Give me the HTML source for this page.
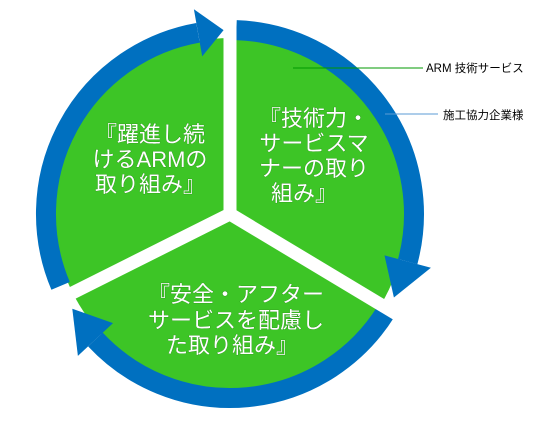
<!DOCTYPE html>
<html><head><meta charset="utf-8"><style>
html,body{margin:0;padding:0;background:#fff;width:533px;height:438px;overflow:hidden}
svg{display:block}
.t{font-family:"Liberation Sans","Noto Sans CJK JP",sans-serif;font-size:22px;fill:#fff;stroke:#2a8a1a;stroke-width:0.6;paint-order:stroke}
.l{font-family:"Liberation Sans","Noto Sans CJK JP",sans-serif;font-size:11.5px;fill:#000}
</style></head><body>
<svg width="533" height="438" viewBox="0 0 533 438" xmlns="http://www.w3.org/2000/svg">
<circle cx="230" cy="214" r="176" fill="#3dc526"/>
<g fill="none" stroke="#0070c0" stroke-width="20">
<path d="M60.6,285.9 A184,184 0 0 1 198,32.8"/>
<path d="M236.4,30.1 A184,184 0 0 1 407.7,261.6"/>
<path d="M386,311.5 A184,184 0 0 1 95.4,339.5"/>
</g>
<g fill="#0070c0">
<polygon points="202.2,56.4 193.9,9.2 223.6,30.1"/>
<polygon points="384.5,255.4 430.9,267.8 393.9,297.5"/>
<polygon points="113,323.1 77.9,355.9 72.3,308.8"/>
</g>
<g stroke="#fff" stroke-width="13" stroke-linecap="butt">
<line x1="230" y1="220" x2="230" y2="-1"/>
<line x1="230" y1="214" x2="37.8" y2="310.3"/>
<line x1="230" y1="214" x2="414.3" y2="324.7"/>
</g>
<g class="t" text-anchor="middle">
<text x="150" y="142">『躍進し続</text>
<text x="150" y="167">けるARMの</text>
<text x="150" y="192">取り組み』</text>
<text x="314" y="126">『技術力・</text>
<text x="314" y="151">サービスマ</text>
<text x="314" y="176">ナーの取り</text>
<text x="304" y="201">組み』</text>
<text x="236" y="302">『安全・アフター</text>
<text x="236" y="328">サービスを配慮し</text>
<text x="232" y="353">た取り組み』</text>
</g>
<line x1="293" y1="68" x2="423" y2="68" stroke="#009900" stroke-width="1"/>
<line x1="385" y1="114" x2="438" y2="114" stroke="#5b9bd5" stroke-width="1"/>
<text class="l" x="426" y="72">ARM 技術サービス</text>
<text class="l" x="443" y="119">施工協力企業様</text>
</svg>
</body></html>
